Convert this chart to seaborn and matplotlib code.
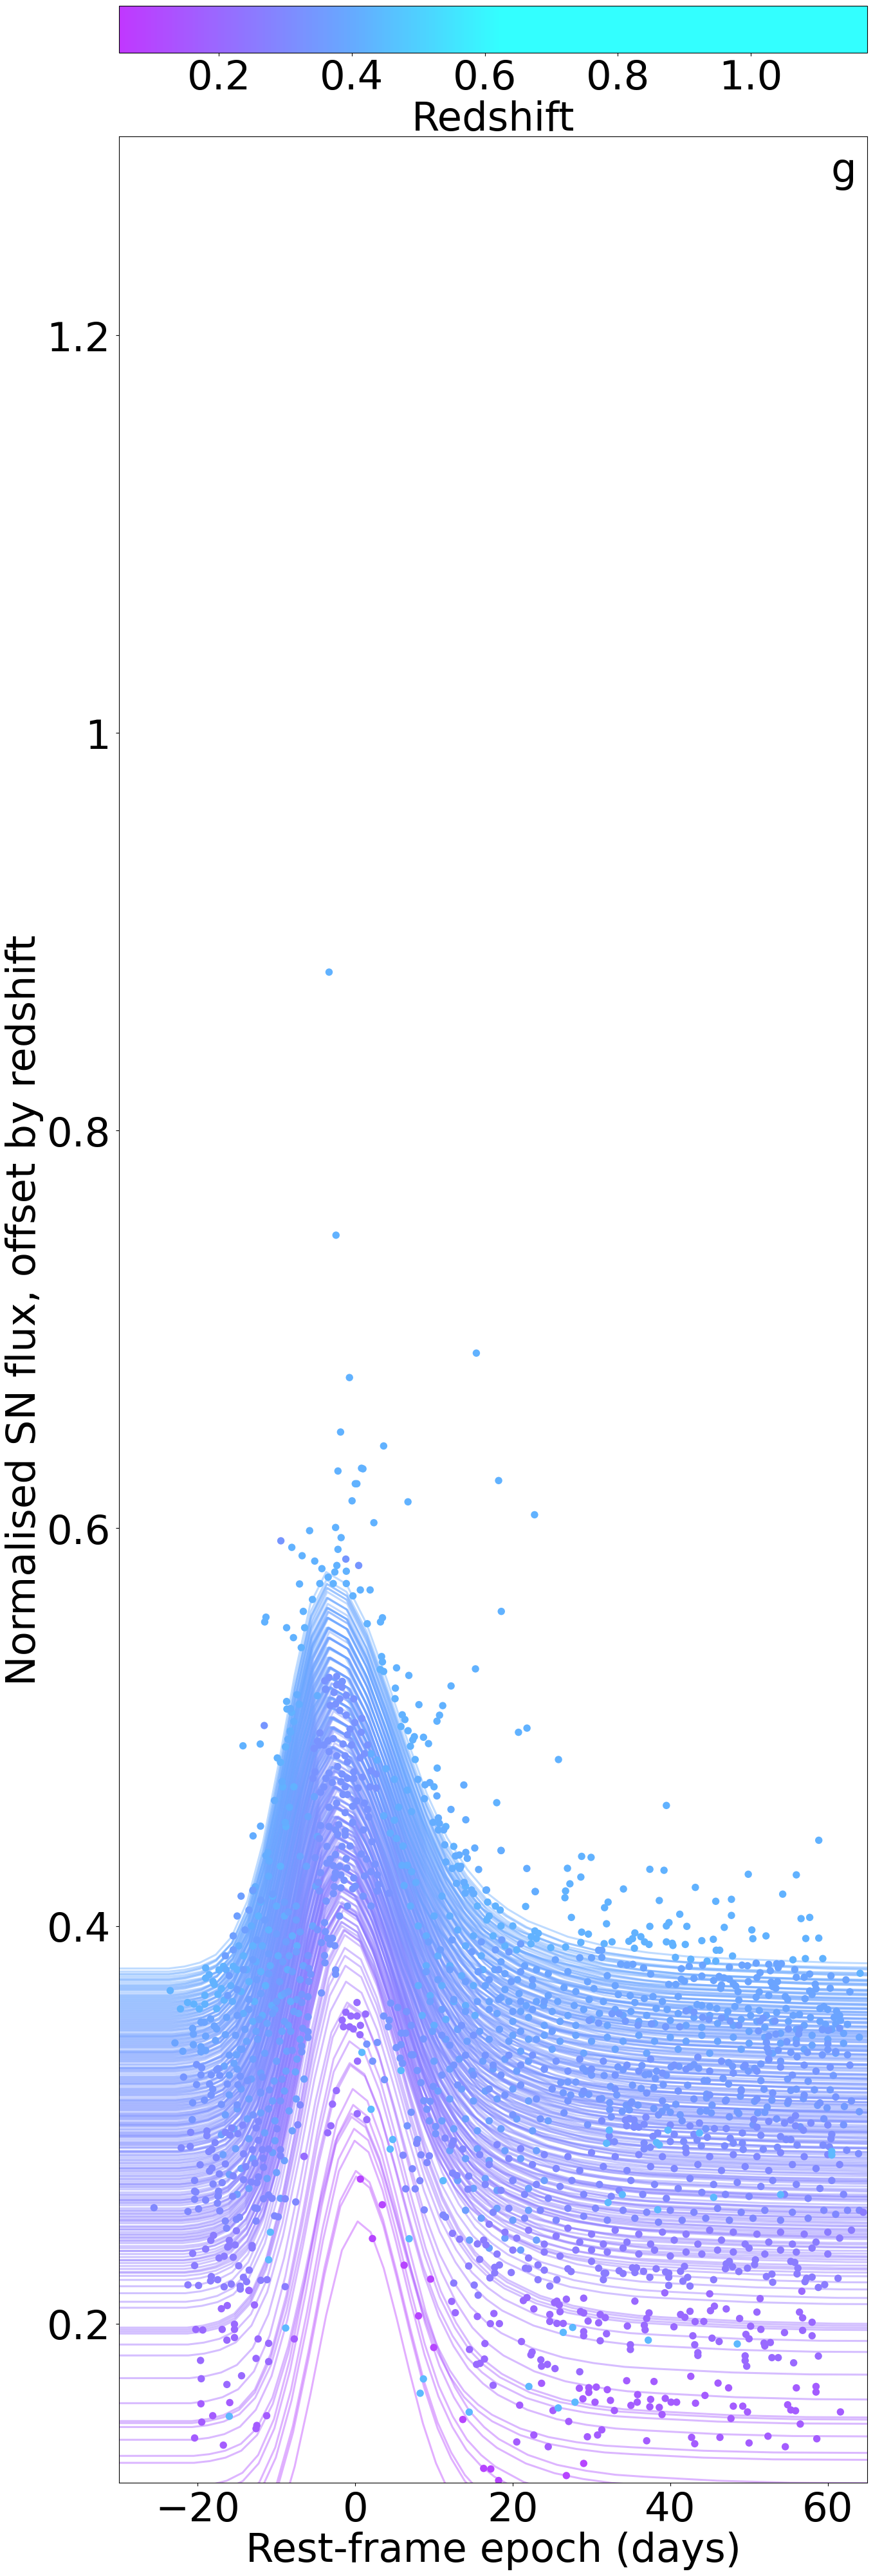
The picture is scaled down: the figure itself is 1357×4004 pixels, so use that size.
import numpy as np
import pandas as pd
import matplotlib
matplotlib.use('Agg')
import matplotlib.pyplot as plt
import seaborn as sns
from matplotlib.colors import LinearSegmentedColormap, Normalize
from matplotlib.cm import ScalarMappable

# Curve shape, as a fraction of the peak height above the baseline
template_phase = [-60, -20, -18, -16, -14, -12, -10, -8, -6, -4, -2, 0, 2, 4, 6, 8, 10, 12, 14, 16, 18, 20, 24, 28, 32, 36, 40, 50, 60, 80, 110]
template_shape = [0, 0, .005, .015, .035, .08, .17, .32, .52, .74, .92, 1, .97, .87, .73, .58, .44, .33, .25, .19, .15, .12, .08, .055, .04, .03, .025, .015, .01, .008, .005]

# (baseline, peak) of each SN curve
curves_low = [(.07, .2514), (.088, .2768), (.085, .274), (.10, .292), (.105, .298), (.114, .31), (.118, .318), (.13, .304), (.1335, .3057),
              (.1416, .33), (.148, .331), (.15, .342), (.151, .349), (.16, .36), (.1726, .3615), (.184, .372), (.1895, .38), (.195, .385),
              (.196, .389), (.197, .3955), (.198, .398), (.208, .398), (.211, .408), (.2153, .411), (.2188, .42)]
curves_mid = [(.222, .412), (.224, .402), (.226, .418), (.2275, .405), (.229, .425), (.2305, .41), (.232, .43), (.2335, .415), (.235, .405),
              (.2365, .432), (.238, .42), (.239, .41), (.2405, .438), (.242, .418), (.2435, .428), (.245, .44), (.246, .415), (.2475, .43),
              (.249, .445), (.2505, .425), (.252, .412), (.2525, .44), (.254, .432), (.2555, .45), (.257, .42), (.258, .438), (.2595, .455),
              (.261, .43), (.262, .445), (.2635, .42), (.265, .46), (.266, .44), (.2675, .43), (.269, .462), (.27, .45), (.2715, .425),
              (.273, .468), (.274, .44), (.2755, .455), (.277, .47), (.278, .43), (.2795, .46), (.281, .475), (.282, .445), (.2835, .47),
              (.285, .435), (.286, .48), (.287, .455), (.2885, .475), (.29, .445), (.291, .485), (.2925, .46), (.294, .49), (.295, .44), (.296, .475)]
curves_high = [(.2975, .46), (.299, .495), (.3, .45), (.301, .485), (.3025, .465), (.304, .5), (.305, .47), (.306, .445), (.3075, .49), (.309, .505),
               (.31, .46), (.311, .495), (.312, .475), (.3135, .51), (.315, .455), (.316, .5), (.317, .48), (.318, .515), (.3195, .465), (.321, .505),
               (.322, .485), (.323, .518), (.324, .46), (.3255, .51), (.327, .49), (.328, .522), (.329, .47), (.33, .515), (.3315, .495), (.333, .525),
               (.334, .475), (.335, .52), (.336, .5), (.337, .53), (.3385, .48), (.34, .525), (.341, .505), (.342, .535), (.343, .49), (.344, .53),
               (.3455, .51), (.347, .54), (.348, .485), (.349, .535), (.35, .515), (.351, .545), (.352, .5), (.3535, .54), (.355, .52), (.356, .55),
               (.357, .495), (.358, .545), (.359, .525), (.3605, .555), (.362, .505), (.363, .55), (.364, .53), (.365, .56), (.3665, .515), (.368, .555),
               (.369, .535), (.37, .565), (.3715, .52), (.373, .56), (.3745, .54), (.376, .57), (.3771, .55), (.3786, .578)]
curves_dense = [(.2415, .43), (.2445, .425), (.2485, .435), (.2515, .43), (.2535, .442), (.2565, .44), (.2605, .448), (.2625, .438), (.2645, .455), (.2685, .452),
                (.2705, .46), (.2725, .445), (.2745, .465), (.2765, .448), (.2785, .472), (.2805, .455), (.2825, .478), (.2845, .452), (.2865, .47), (.2885, .482),
                (.2895, .46), (.2915, .478), (.2935, .47), (.2945, .492), (.2955, .465), (.2965, .488), (.298, .478), (.2995, .5), (.3005, .47), (.3015, .498),
                (.303, .482), (.3035, .505), (.3045, .488), (.3055, .508), (.307, .478), (.308, .5), (.3095, .49), (.3105, .512), (.3115, .48), (.3125, .505),
                (.3145, .495), (.3155, .518), (.3165, .49), (.3175, .51), (.3185, .5), (.3205, .522), (.3215, .495), (.3225, .515), (.3235, .505), (.3245, .525),
                (.3265, .5), (.3275, .52), (.3285, .51), (.3305, .53), (.332, .505), (.3325, .525), (.3335, .515), (.3345, .535), (.3355, .51), (.3365, .53),
                (.3375, .52), (.339, .54), (.3395, .515), (.3405, .535), (.3415, .525), (.3425, .545), (.3435, .52), (.3445, .54), (.345, .53), (.346, .548),
                (.3475, .525), (.3485, .545), (.3495, .535), (.3505, .55), (.3515, .53), (.3525, .55), (.353, .54), (.354, .558), (.3545, .535), (.3555, .555),
                (.3565, .545), (.3575, .56), (.3585, .54), (.3595, .558), (.36, .55), (.361, .565), (.3615, .545), (.3625, .562), (.3635, .555), (.3645, .57),
                (.3655, .55), (.3675, .568), (.3685, .56), (.3695, .572), (.3705, .555), (.3725, .572), (.3735, .565), (.3755, .574), (.278, .462), (.27, .435),
                (.262, .43), (.255, .425), (.2472, .42), (.243, .41), (.2366, .41), (.2318, .402), (.2255, .4), (.2905, .452), (.3, .475), (.3085, .47), (.2865, .445),
                (.2945, .455), (.3045, .46), (.3125, .47), (.3205, .48), (.3285, .49), (.3365, .5), (.3445, .505)]

# (epoch, flux) of the points, grouped by the redshift their colour shows
pts_z42 = [(-3.33, .8797), (-2.45, .7474), (15.37, .6881), (-.74, .6758), (-1.87, .6484), (3.6, .6414), (18.2, .624), (-2.2, .6288), (.79, .6302), (.97, .6299),
           (0, .6224), (.2, .6224), (-.41, .6138), (6.69, .6133), (22.76, .6068), (2.36, .6028), (-5.8, .5988), (-2.5, .6004), (-1.8, .5953), (-8.06, .5904),
           (-2.2, .5894), (-6.75, .5862), (-5.15, .5835), (-4.24, .5797), (-2.34, .5813), (-2.6, .578), (-1.14, .5784), (-3.44, .5754), (-7.08, .572), (-4.5, .5722),
           (-2.8, .5722), (-1.14, .5722), (.64, .569), (1.88, .569), (-.3, .566), (-5.44, .5642), (-11.34, .5553), (-11.5, .5529), (-6.6, .5582), (3.45, .555),
           (3.2, .5529), (18.54, .5582), (-8.72, .55), (-6.43, .55), (1.52, .552), (-7.85, .545), (-6.86, .54), (3.34, .5355), (3.45, .5328), (5.24, .5298),
           (3.16, .529), (3.6, .528), (6.8, .526), (15.26, .5293), (12.16, .5207), (5.09, .5196), (5.05, .5143), (-8.72, .5129), (-8.68, .5091), (-8.1, .5075),
           (8.08, .5113), (11.1, .5108), (10.7, .506), (5.96, .5062), (6.3, .5038), (10.37, .503), (5.8, .5003), (6.7, .4982), (-8.28, .498), (20.72, .4974),
           (21.8, .4995), (7.5, .4952), (8.66, .4949), (7.3, .4936), (9.3, .4917), (-14.26, .4906), (-12.07, .4915), (-8.87, .4901), (7.0, .4904), (25.8, .4837),
           (-9.9, .4845), (-9.5, .4823), (7.6, .4837), (10.4, .4794), (17.96, .462), (39.5, .4606), (58.85, .4431), (18.5, .438), (28.74, .435), (29.94, .4345),
           (26.94, .429), (28.64, .4246), (27.25, .4212), (22.86, .4173), (26.7, .4176), (26.62, .4142), (21.63, .4098), (16.6, .418), (37.4, .4285), (39.2, .428),
           (34.05, .4186), (43.18, .4194), (49.9, .426), (56, .4257), (54.27, .416), (38.6, .4128), (32.1, .412), (31.65, .4092), (45.77, .4124), (47.76, .4134),
           (41.2, .4059), (47.76, .4053), (39.83, .4017), (39.5, .4), (37.4, .3998), (42.1, .3998), (46.85, .3993), (57.7, .4043), (56.6, .4037), (27.44, .4043),
           (31.9, .4011), (50.35, .398), (52.15, .395), (50.48, .3936), (57.2, .3937), (58.85, .3939), (28.74, .3969), (29.6, .3959), (35.5, .3965), (36.26, .3946),
           (35.2, .3936), (34.74, .3923), (31.6, .3911), (32.6, .392), (36.73, .392), (37.3, .3907), (39.5, .392), (40.24, .3913), (40.33, .3902), (41.9, .3907),
           (44, .3926), (45.46, .3933), (28.64, .3917), (26.7, .3894), (24.82, .3891), (22.8, .3975), (23.24, .3963), (22.35, .3946), (23, .3937), (22.3, .391),
           (35.44, .3888), (45.83, .3878), (46.27, .3878), (47.9, .3849), (40.65, .3842), (42.6, .3833), (44.67, .3823), (45.77, .3823), (55.57, .383), (57.15, .3836),
           (59.36, .3836), (64.1, .3762), (-19, .3789), (-18.56, .3755), (-19, .3738), (-18.06, .372), (-17.3, .3779), (-16.75, .3797), (-15.5, .3797), (-17.9, .3706),
           (-17, .3685), (-17.44, .3656), (-23.5, .3675), (-21.3, .3615), (-22.2, .3583), (-20.5, .3607), (-19.8, .3583), (-19.1, .3607), (-19.1, .3651), (-16.65, .3627),
           (-17.6, .3584), (-12.3, .405), (-11, .398), (-13, .39), (-14.2, .385), (-15, .378), (-10.5, .415), (-9.5, .43), (-8.8, .45), (-9.2, .47), (-7.8, .47),
           (-12, .377), (-13.5, .372), (-14.5, .367), (-12.8, .362), (-11.4, .37), (10, .47), (11.5, .45), (12.5, .44), (13, .43), (14, .42), (15.5, .41), (17, .405),
           (18.5, .4), (20, .4), (19, .39), (17.5, .395), (20.5, .388), (16.7, .403), (16.8, .412), (17.8, .41), (18.4, .408)]
pts_flank = [(-8.22, .5093), (-7.81, .5028), (-8.22, .4974), (-8.55, .4939), (-4.82, .5158), (-7.4, .5163), (-7.13, .5115), (-9.3, .4726), (-10.26, .4631), (-11.08, .437),
             (-11.35, .4354), (-10.94, .4327), (-12.7, .4197), (-12.98, .4176), (-8.9, .4521), (-8.36, .4597), (-12.03, .4502), (-12.98, .4453), (2.79, .4834), (3.88, .4791),
             (1.98, .4866), (3.61, .4554), (4.97, .4532), (5.51, .4597), (4.43, .4467), (5.24, .444), (6.06, .4402), (5.92, .4305), (6.6, .4305), (7.15, .4273), (7.69, .4219),
             (6.19, .4203), (9.87, .4521), (8.78, .464), (7.96, .4737), (7.15, .4575), (6.6, .4683), (4.97, .4737), (10.55, .4543), (10.68, .4516), (10.55, .4483), (11.23, .4483),
             (11.36, .4408), (11.5, .4322), (12.31, .4289), (12.72, .4352), (13.21, .4357), (14.03, .437), (14.22, .434), (13.4, .43), (13.27, .4289), (12.86, .4214), (13.81, .4219),
             (13.95, .4165), (14.76, .4181), (15.03, .4163), (16.67, .4181), (9.46, .4721), (8.86, .471), (10.36, .4654), (13.78, .4709), (12.15, .4586), (14.03, .4534), (15.17, .4392),
             (18.52, .4379), (15.66, .4284), (21.78, .4289), (22.84, .4173), (-10, .41), (-9, .405), (-8, .395), (-9.8, .385), (-8.6, .378), (-7.4, .39), (-10.8, .38), (-11.8, .39),
             (-12.6, .382), (-13.8, .378), (-15.6, .362), (-14.2, .356), (-13, .352), (-11.8, .355), (-10.6, .36), (-9.4, .365), (-8.2, .362), (-15.8, .37), (-16.4, .378), (-14.8, .39),
             (-13.2, .4), (-12, .412), (-11, .425), (7, .41), (8, .4), (9, .395), (10, .405), (11, .415), (12, .405), (13, .398), (14, .39), (15, .395), (16, .385), (9, .38), (10.5, .385),
             (12, .38), (13.5, .375), (15, .37), (16.2, .378), (8, .37), (9.5, .365), (11, .37), (12.5, .362), (14, .36), (15.2, .355), (8.5, .355), (10, .35), (11.5, .353), (13, .348)]
pts_z38 = [(17.7, .378), (18.5, .382), (19, .376), (20.6, .373), (21.5, .38), (23, .378), (24.5, .376), (25.4, .383), (27, .377), (28.5, .384), (30, .384), (30.9, .3878),
           (31.3, .3878), (31.3, .3842), (33.7, .3808), (34.5, .3804), (35.25, .3807), (36.6, .3789), (37.5, .3758), (41.4, .3785), (42.4, .3797), (44.1, .3803), (47.5, .3793),
           (49.1, .3803), (49.8, .38), (50.9, .3813), (52.5, .3807), (53.5, .381), (54.1, .381), (53.7, .379), (55.8, .3781), (52.7, .3775), (51.4, .3765), (51, .374),
           (49.9, .372), (43, .3736), (44, .3748), (41.4, .3732), (41.8, .3722), (40.7, .3706), (39.8, .3706), (45.5, .3726), (46.2, .3746), (46.8, .3739), (47.5, .3732),
           (48, .371), (48.3, .3698), (46.5, .3703), (46.4, .3686), (48.6, .367), (51.3, .3668), (52.5, .3651), (50.9, .3642), (52.8, .3717), (53.6, .372), (53, .3695),
           (53.4, .3687), (56, .3742), (57, .3742), (57.7, .3758), (58.4, .3707), (58.5, .3684), (57.7, .3673), (58, .3656), (57.1, .3634), (60.3, .3687), (60.4, .3749),
           (62.3, .3729), (62.8, .3669), (54.6, .3645), (54.9, .363), (48.7, .3627), (32, .375), (33, .37), (29.5, .372), (30.3, .3685), (28, .367), (26.5, .369),
           (24.5, .365), (22.5, .37), (20.8, .366), (19.5, .362), (18.5, .364), (21.7, .36), (23.9, .36), (25.7, .362), (27.8, .36), (29.7, .363), (31.5, .362), (33.4, .3655),
           (34.9, .365), (35.5, .3615), (36.7, .3635), (37.8, .3645), (38.2, .3585), (39.6, .358), (41, .3645), (42.5, .358), (43.4, .3605), (44, .36), (45, .3595), (45.9, .3585),
           (47.3, .357), (48.2, .3595), (49.9, .3585), (50.2, .355), (51.3, .3575), (52.2, .355), (53.5, .3565), (54.7, .3585), (55.6, .355), (56.4, .3555), (57.8, .354),
           (59, .3585), (60, .358), (61.1, .3572), (61.5, .355), (61.6, .3525), (59.5, .3595), (60.8, .354), (16.5, .37), (17, .362), (18, .356), (20, .352), (22, .354),
           (24, .35), (26, .352), (28, .35), (30, .353), (32, .35), (34, .355), (36, .352), (38, .351), (40, .3525), (42, .35), (44, .349), (46, .351), (48, .35), (50, .347),
           (52, .349), (54, .346), (56, .348), (58, .345), (60.5, .348), (62, .346), (60, .3475), (59.7, .3505), (61, .3508), (62.5, .3505), (-18.37, .3533), (-19.6, .3516),
           (-19.15, .3516), (-20.65, .3485), (-20.56, .3456), (-22.9, .3412), (-20.56, .3403), (-21.9, .337), (-19.6, .3393), (-19.6, .3367), (-19, .3374), (-17.9, .3497),
           (-17.6, .3482), (-19, .3446), (-17.75, .3424), (-16.34, .354), (-16.5, .3453), (-15.4, .3309), (-15.1, .3352), (-16.65, .3295), (-14.6, .338), (-13.8, .342), (-12.6, .347),
           (-11.2, .351), (-10.2, .358), (-9, .366), (-8.4, .385), (-7.5, .41), (-7, .435), (-6, .455), (-6.2, .43), (-5.2, .465), (-4.8, .445), (-5, .42), (-5.4, .4), (-6.6, .38),
           (-9.3, .347), (-7.6, .3266), (-8.5, .35), (-7.2, .356), (19, .368), (21, .357), (23, .362), (25, .357), (27, .355), (29, .358), (31, .356), (33, .358), (35, .357), (37, .355),
           (39, .362), (41, .356), (43, .354), (45, .355), (47, .354), (49, .353), (51, .352), (53, .352), (55, .352), (57, .35), (59, .352), (20, .345), (22, .343), (24, .345),
           (26, .342), (28, .345), (30, .342), (32, .344), (34, .342), (36, .345), (38, .342), (40, .344), (42, .342), (44, .345), (46, .342), (48, .344), (50, .341), (52, .344),
           (54, .341), (56, .343), (58, .34), (60, .343), (62, .341), (64, .344), (21, .337), (25, .338), (29, .336), (33, .338), (37, .336), (41, .338), (45, .336), (49, .338),
           (53, .336), (57, .338), (61, .336)]
pts_core = [(-3.87, .5233), (-3.73, .519), (-2.37, .5255), (-2.37, .5212), (-1.69, .5228), (-1.69, .5201), (-3.33, .525), (-2.7, .5174), (-1.97, .5142), (-1.15, .516), (-.2, .5142),
            (-3.19, .5109), (-2.51, .5115), (-1.97, .5084), (-1.15, .506), (-.06, .5023), (.84, .5044), (-.66, .499), (-1, .4961), (-4.5, .4971), (-4.8, .4929), (-4.55, .491), (-4, .491),
            (-3.46, .4931), (-2.78, .4942), (-1.56, .4915), (-.47, .491), (.75, .4974), (1.57, .491), (-5.23, .4893), (-3.33, .4877), (-2.37, .4856), (-1.29, .4856), (-1, .4825), (.62, .4845),
            (1.16, .4866), (-2.24, .4802), (-1.69, .4764), (-3.33, .4769), (-.2, .4775), (-.2, .4742), (-3.73, .4742), (-5.37, .4742), (-2.92, .4721), (-1.83, .4726), (-1, .4742), (.89, .4748),
            (1.98, .478), (2.66, .4764), (-5.1, .4775), (-4, .4699), (-1.29, .4699), (.35, .4694), (1.84, .4699), (2.66, .4694), (-1.56, .4661), (-1, .4661), (-4.41, .4672), (.21, .4629),
            (1.16, .4618), (-2.37, .4618), (-3.33, .4597), (-.33, .4602), (1.57, .4586), (-1.29, .457), (1.71, .4548), (-.33, .4521), (-2.1, .451), (-3.33, .45), (-4.41, .4505), (-2.51, .4483),
            (-1.29, .4478), (-1.29, .4456), (1.03, .4483), (-4.55, .444), (-2.24, .446), (2.11, .4424), (-3.6, .44), (-1.69, .44), (-.66, .4402), (.75, .4362), (-2.51, .4359), (-5.1, .4343),
            (-3.19, .4336), (-1.15, .4338), (1.43, .4336), (2.52, .4311), (-3.6, .4316), (-2.78, .4303), (-1.97, .43), (-1.07, .4292), (1.98, .4273), (-4.41, .4268), (-2.51, .4268), (-1.83, .4257),
            (1.16, .4251), (2.79, .4257), (-2.65, .4241), (-1.42, .423), (-.2, .4241), (-4.69, .4219), (-2.65, .4197), (-1.83, .4192), (-.33, .4187), (2.93, .4208), (2.79, .4176), (4.29, .4165),
            (-4.55, .4176), (-2.78, .4163)]
pts_z34 = [(-6.8, .3367), (-6.66, .3485), (-6, .3468), (-6, .3439), (-6.8, .3396), (-8, .3374), (-6, .3543), (-6.8, .3615), (-6, .3644), (-6.8, .3656), (-4.3, .3663),
           (-5.9, .3721), (-5.66, .3757), (-5.9, .3786), (-6, .3851), (-3.85, .3815), (-3.9, .3851), (-3.7, .4125), (-3.9, .4017), (-4.8, .3981), (-3.8, .3971), (-4.3, .3916),
           (-3.5, .3938), (-2.9, .3938), (-3.2, .3909), (-2.6, .3901), (-2.5, .3779), (-2.5, .3757), (-1, .41), (0, .42), (1, .415), (-2, .405), (2, .41), (-3.8, .519), (-1.65, .523),
           (-9.45, .5937), (-1.2, .5845), (.43, .5813), (-11.56, .5008), (-20.15, .3303), (-19.5, .3287), (-21.8, .324),
           (-19.6, .3251), (-18.3, .3251), (-17.2, .3248), (-17.4, .3283), (-17.6, .3277), (-20.15, .3202), (-18.5, .3205), (-18.1, .3179), (-18.3, .315), (-19.15, .3124),
           (-20.65, .3111), (-17, .3102), (-14.9, .3201), (-16.25, .3205), (-14.6, .3244), (-13.7, .3222), (-11.8, .324), (-12, .3164), (-10.9, .3176), (-9.3, .3229), (-20.7, .3026),
           (-15, .31), (-13, .305), (-11, .308), (-9.5, .312), (1.46, .3406), (2.8, .3414), (2.2, .332), (3.7, .3227), (5.2, .3388), (5.8, .3403), (5.84, .3461), (6.4, .3461),
           (4.2, .3493), (4.3, .3526), (3.6, .3547), (4.5, .3612), (5.4, .359), (6.5, .3569), (7.1, .35), (8.65, .3432), (5.7, .3335), (6, .3309), (7.1, .3352), (7.35, .3352),
           (7.87, .3273), (8.34, .3212), (9.9, .3193), (8.7, .3121), (9.5, .3118), (9.1, .3078), (10.2, .2991), (9.4, .302), (10.2, .2955), (7.1, .3063), (6.6, .2995), (7.9, .2926),
           (11, .345), (12, .34), (13.5, .35), (15, .345), (14, .335), (12.5, .33), (11, .325), (13, .32), (15, .325), (16.5, .335), (17.5, .33), (18.5, .325), (19.5, .335), (21, .33),
           (22.5, .335), (24, .328), (25.5, .332), (27, .327), (28.5, .333), (30, .328), (31.5, .332), (33, .325), (34.5, .33), (36, .327), (37.5, .333), (39, .326), (40.5, .33),
           (42, .328), (43.5, .334), (45, .327), (46.5, .332), (48, .326), (49.5, .33), (51, .327), (52.5, .333), (54, .329), (55.5, .325), (57, .33), (58.5, .327), (60.3, .329),
           (62.8, .33), (17, .318), (19, .315), (21, .32), (23, .313), (25, .318), (27, .312), (29, .317), (31, .313), (33, .318), (35, .311), (37, .316), (39, .312), (41, .317),
           (43, .313), (45, .315), (47, .312), (49, .317), (51, .313), (53, .316), (55, .312), (57, .315), (59, .311), (61, .314), (63, .312), (20, .305), (23.5, .303),
           (26.5, .306), (29.5, .3), (32.5, .304), (35.5, .3), (38.5, .305), (41.5, .302), (44.5, .298), (47.5, .304), (50.5, .3), (53.5, .303), (56.5, .299), (59.5, .303), (62, .3)]
pts_right = [(29.7, .3525), (30.9, .3512), (35.9, .3501), (34.3, .3522), (33.5, .3559), (32.6, .3559), (37.6, .3508), (39.4, .3493), (41.2, .3493), (42, .3573), (43, .3566), (44.1, .354), (44.9, .353),
             (46.5, .3537), (47.6, .3522), (48.7, .3501), (51.4, .3522), (51.8, .3537), (53.3, .3522), (55, .3482), (56.4, .3482), (59.3, .3479), (60.1, .3476), (61.5, .3486), (51.2, .3472), (52.5, .3447),
             (53.4, .3456), (56.3, .3457), (54.8, .3418), (56, .3409), (60, .3407), (60, .3378), (52.2, .3414), (52.3, .3385), (52.5, .3364), (53.7, .3375), (55.3, .3364), (57.4, .3364), (59.3, .3352),
             (61, .3368), (62.5, .3352), (56.1, .3342), (52.5, .3327), (54, .332), (51.5, .3306), (50.7, .3284), (49.3, .3291), (49.9, .327), (47.4, .3313), (47.9, .3294), (43.6, .3284), (43, .3303),
             (42.5, .3291), (40.1, .3291), (41.1, .3294), (39.5, .325), (38.25, .327), (37.3, .3255), (36.8, .3252), (36.4, .3298), (38.1, .3233), (34, .3277), (33.35, .3291), (31.6, .3248), (30, .325),
             (28.9, .3284), (29.3, .327), (27, .3216), (28, .3215), (26.1, .3212), (26.4, .3161), (27.35, .315), (28.8, .3154), (29.65, .3153), (31.3, .3132), (32.4, .3193), (33.2, .315), (35.2, .3199),
             (36.3, .3183), (37.9, .3187), (39.1, .3202), (42.2, .3199), (44.3, .3222), (44.7, .3222), (46.7, .3233), (47.4, .3205), (49, .3176), (51.5, .3222), (51.9, .3179), (54.9, .323), (55.3, .3173),
             (56, .3179), (57.5, .3219), (58.3, .3176), (60.3, .3176), (60.7, .3248), (48.9, .3144), (47.1, .3125), (50.7, .3118), (52.9, .3124), (56.9, .3132), (58.7, .3098), (59.9, .3085), (62.1, .3092),
             (64, .3066), (54.9, .3108), (52.3, .3089), (52, .3063), (51.1, .306), (48.5, .3067), (48.7, .3056), (45.3, .3099), (44.6, .3154), (44.6, .3135), (43.8, .3067), (44.6, .307), (45.2, .306),
             (41.25, .305), (40.7, .3103), (39.5, .3089), (40, .3063), (38.95, .3067), (37.9, .3082), (35.9, .3099), (34.8, .3075), (33.9, .3067), (34.4, .3099), (35.1, .3115), (32.3, .3077), (32.3, .3111)]
pts_lower = [(31.3, .302), (32.25, .2944), (32.25, .2915), (32.9, .2915), (34.3, .3024), (34.8, .3031), (35.4, .3024), (34.46, .2995), (35.4, .2988), (36, .2988), (36.67, .3002), (36.9, .3038), (37.8, .2942),
             (38.4, .2959), (36.67, .2908), (36.67, .2879), (37.46, .2887), (40, .2999), (40.5, .2952), (40, .2916), (41.7, .2916), (41.95, .2884), (42.5, .2995), (43.7, .3009), (43, .2952), (44.7, .2937),
             (43.4, .2923), (43.94, .2894), (45.6, .2981), (47.1, .2981), (49.15, .2959), (47.6, .2933), (46.9, .2894), (48, .2908), (49.15, .2908), (49.25, .2876), (50.6, .3027), (51, .2988), (52.5, .3017),
             (51.5, .2947), (54, .2941), (54.5, .3009), (55.3, .3024), (55.9, .3046), (55.9, .2995), (56.9, .2973), (57.85, .3009), (54.7, .2926), (55.3, .2926), (56.1, .2898), (53.6, .2887), (51.8, .2877),
             (60, .2999), (60.5, .2952), (60.4, .293), (59.4, .2898), (60.2, .2889), (62.4, .2872), (63.9, .2855)]
pts_rise = [(-14.5, .415), (-13, .418), (-12, .413), (-10.5, .416), (-9, .412), (-15, .405), (-13.5, .408), (-11.5, .403), (-8.5, .407), (-7.5, .403), (-15.5, .395), (-14, .398), (-12.5, .393),
            (-10, .396), (-8.8, .392), (-7, .397), (-16.5, .385), (-15.5, .388), (-13, .383), (-11, .386), (-9.2, .382), (-7.5, .387), (-16, .375), (-14.2, .378), (-12.5, .373), (-11, .376), (-9.6, .372),
            (-8, .377), (-7, .373), (-16.2, .365), (-15, .368), (-13.5, .363), (-12, .366), (-10, .362), (-8.5, .367), (-7.4, .363), (-15, .355), (-13.5, .358), (-12.2, .353), (-10.5, .356), (-9, .352),
            (-7.8, .357), (-15.2, .345), (-14, .348), (-12.4, .343), (-11, .346), (-9.6, .342), (-8.2, .347), (-7, .343), (-16, .335), (-14.4, .338), (-13, .333), (-11.5, .336), (-10, .332), (-8.7, .337),
            (-7.4, .333), (-16, .325), (-15, .328), (-13.2, .323), (-12, .326), (-10.3, .322), (-8.8, .327), (-6.5, .323), (-16, .315), (-14.5, .318), (-13.5, .313), (-12, .316), (-10.5, .312), (-9, .317),
            (-7.5, .313), (-16.5, .305), (-15, .308), (-13.7, .303), (-12, .306), (-10.2, .302), (-8.4, .307), (-17, .295), (-15.4, .298), (-13.5, .293), (-11.5, .296), (-10.2, .292), (-8, .297), (-16.8, .285),
            (-15.2, .288), (-13, .283), (-10.5, .286), (-9, .282), (-16, .275), (-14.5, .278), (-11.2, .273), (-10, .276), (-15, .265), (-13.5, .268), (-9.5, .263)]
pts_fall = [(9.3, .392), (10.8, .388), (12.3, .393), (14.8, .387), (16, .392), (17.8, .388), (18.6, .393), (19.5, .387), (21, .391), (9, .377), (10.5, .373), (12, .378), (14, .372), (15.6, .377), (17, .373),
            (18.2, .378), (19.8, .372), (21, .377), (22.5, .373), (9.5, .362), (11, .358), (12.5, .363), (14, .357), (15.5, .362), (17, .358), (18.2, .363), (20, .357), (21, .362), (22.5, .358), (24, .362),
            (9.8, .347), (11.5, .343), (13, .348), (14.2, .342), (15.8, .347), (17, .343), (18.3, .348), (19.5, .342), (21, .347), (23, .343), (25, .347), (10, .332), (12, .328), (13.2, .333), (14.8, .327),
            (16.2, .332), (17.5, .328), (19, .333), (20.5, .327), (22, .332), (24, .328), (10.5, .317), (12, .313), (13.5, .318), (15, .312), (16.5, .317), (18, .313), (20, .318), (22, .312), (11, .302),
            (12.5, .298), (14, .303), (15.5, .297), (17, .302), (18.5, .298), (20.5, .303), (22.5, .297), (24.5, .302), (12, .287), (14, .283), (15.5, .288), (17, .282), (19, .287), (21, .283), (23, .287),
            (13, .272), (15, .268), (16.5, .273), (18, .267), (20, .272), (22, .268), (24, .272), (14, .257), (16, .253), (18, .258), (20, .252), (22, .257), (14.5, .242), (17, .238), (19, .243), (21, .237), (23, .242)]
pts_z30 = [(-12.3, .3017), (-9.94, .298), (-12.6, .2984), (-14.3, .2998), (-15.7, .2984), (-12.3, .2922), (-16.5, .2962), (-15.9, .2948), (-14.9, .2955), (-14.2, .2854),
           (-13.06, .2875), (-11.8, .2875), (-11, .2878), (-11.7, .2832), (-9.5, .2844), (-9.5, .2875), (-13.9, .2789), (-12.75, .2807), (-11.65, .2786), (-12.3, .2738),
           (-14.2, .2724), (-13.2, .2712), (-12.5, .2709), (-15.5, .2743), (-16.9, .2709), (-16.5, .2803), (-18.2, .2782), (-20.9, .2962), (-18.84, .2969), (-18.84, .2945),
           (-22.1, .2884), (-20.96, .2891), (-18.6, .2865), (-18.2, .2876), (-17.8, .291), (-17.65, .2835), (-19.7, .2799), (-18.5, .2767), (-20.4, .272), (-18.06, .2702),
           (-17.26, .2753), (-20.4, .2666), (-20.25, .2662), (-17.36, .2666), (-17.43, .2641), (-6.5, .2841), (-8.9, .2628), (-7.56, .2612), (-11, .2647), (-11.66, .2628),
           (-10.56, .263), (-9.78, .2537), (-10.25, .2542), (-12.75, .2582), (-12.44, .2579), (-12.6, .2516), (-25.56, .2583), (-21.25, .2564), (-19.9, .2577), (-19, .2621),
           (-20.4, .2625), (-17.5, .2606), (-17.2, .2567), (-15.56, .264), (-17.4, .2643), (-15.1, .2524), (-14.7, .2535), (-16.5, .2516), (-16.34, .248), (-7, .31), (-7.3, .3),
           (6.06, .2847), (7.25, .2779), (8.2, .2719), (6.4, .2678), (7.6, .2678), (8.75, .2572), (7.8, .2907), (8.34, .2849), (9.4, .2844), (9.1, .281), (11.4, .2933), (12.46, .2919),
           (12.24, .2897), (13.65, .2878), (12.34, .2757), (14.4, .2742), (12.9, .2745), (14.3, .2676), (11.15, .2546), (11.46, .2536), (15.8, .285), (17, .28), (18, .29), (19.5, .283),
           (21, .288), (22.5, .28), (24, .285), (25.5, .278), (27, .284), (28.5, .277), (30, .286), (31.5, .279), (33, .284), (34.5, .277), (36, .285), (37.5, .279), (39, .284),
           (40.5, .278), (42, .286), (43.5, .28), (45, .284), (46.5, .277), (48, .285), (49.5, .279), (51, .284), (52.5, .277), (54, .286), (55.5, .28), (57, .284), (58.5, .278),
           (60, .285), (61.5, .28), (16.5, .27), (18.5, .267), (20, .272), (21.5, .265), (23, .27), (24.5, .263), (26, .269), (27.5, .272), (29, .265), (31, .27), (32.5, .264),
           (33.5, .267), (35, .272), (36.5, .265), (38, .27), (39.5, .263), (41, .268), (42.5, .273), (44, .266), (45.5, .27), (47, .265), (48.5, .271), (50, .264), (51.5, .269),
           (53, .272), (54.5, .265), (56, .27), (57.5, .263), (59, .268), (60.5, .272), (62, .265), (64, .257), (17.5, .256), (19.5, .258), (21.5, .253), (23.5, .257), (25.5, .252),
           (27, .258), (29, .254), (30.5, .258), (32, .252), (34, .257), (35.5, .253), (37, .256), (38.5, .251), (40, .257), (41.5, .252), (43, .256), (44.5, .253), (46, .258),
           (47.5, .252), (49, .256), (50.5, .253), (52, .257), (54, .252), (55.5, .256), (57.5, .253), (59.5, .257), (61, .255), (62.5, .257)]
pts_z26 = [(-20.65, .2353), (-19, .2375), (-15.5, .2334), (-16.65, .2339), (-17.3, .233), (-13.1, .2393), (-13.1, .2381), (-15.25, .2396), (-16, .2393), (-16.2, .2385), (-18.34, .2419),
           (-18, .2444), (-16, .2419), (-15.1, .2467), (-12, .2218), (-11.2, .2221), (-8.9, .2186), (-13.5, .2167), (-14.6, .2174), (-14.62, .2189), (-13.8, .2211), (-14.2, .2233),
           (-13.47, .2269), (-14.8, .2291), (-16.65, .2185), (-15.75, .2199), (-17.47, .2221), (-18.37, .2215), (-18.28, .2237), (-21.25, .2195), (-19.9, .2192), (-20.4, .2292),
           (12.34, .2454), (13.25, .2425), (15.5, .2401), (16.3, .242), (16.6, .2396), (15.8, .2323), (14.4, .229), (17.7, .2283), (17.1, .223), (12.5, .2204), (15.1, .2194),
           (15.6, .2143), (17.7, .2255), (18.3, .2295), (19.8, .2257), (21.6, .2279), (22, .2276), (23.2, .2295), (24, .2269), (23.2, .2221), (24.7, .2189), (25.6, .2221), (27, .2276),
           (27.4, .2262), (30, .2313), (30.9, .2279), (31.6, .2254), (31.8, .2254), (31.5, .2221), (33.5, .2266), (34, .2252), (35.2, .2281), (35.7, .2281), (35.5, .2257), (36.6, .2263),
           (37.4, .2233), (38.2, .2276), (39.4, .226), (39.8, .2254), (39.8, .2233), (39.8, .2192), (41.3, .2263), (41.6, .2214), (42.2, .2233), (42.5, .2189), (41.8, .2288), (45.5, .2221),
           (47.1, .2301), (47.5, .2313), (47, .2276), (47.9, .2286), (48.7, .2262), (49.8, .2279), (50.7, .2297), (50.8, .2321), (52.2, .2237), (52.9, .2249), (53, .2208), (55.3, .2313),
           (55.8, .2308), (56.2, .2279), (56.1, .225), (57.1, .2211), (57.3, .2228), (58, .2234), (58.8, .2182), (59.6, .2196), (61.3, .2228), (17, .25), (19, .246), (20.5, .243),
           (22, .247), (24, .24), (25.5, .244), (27, .248), (28.5, .241), (30, .245), (31.5, .24), (33, .247), (34.5, .241), (36, .245), (37.5, .24), (39, .246), (40.5, .242), (42, .245),
           (43.5, .24), (45, .247), (46.5, .242), (48, .246), (49.5, .24), (51, .245), (52.5, .241), (54, .246), (55.5, .24), (57, .245), (58.5, .241), (60, .246), (61.5, .243),
           (63, .247), (64.5, .256), (18, .235), (20, .237), (22, .233), (24, .236), (26, .234), (28, .237), (30, .237), (32, .236), (34, .238), (36, .235), (38, .237), (40, .234),
           (42, .236), (44, .235), (46, .237), (48, .236), (50, .238), (52, .235), (54, .237), (56, .236), (58, .238), (60, .235)]
pts_z20 = [(-12.34, .1923), (-11, .1901), (-11, .1809), (-12.6, .1825), (-12.8, .2094), (-14.44, .1738), (-16.3, .1694), (-19.56, .1723), (-19.65, .1815), (-15.34, .1997), (-15.34, .1971),
           (-16.9, .1971), (-20.25, .1971), (-19.37, .1968), (-15.34, .193), (-16.3, .1917), (-17, .2075), (-16.25, .2091), (-13.5, .2167), (12.24, .2112), (12.7, .2055), (17.15, .2),
           (15.5, .2036), (17.6, .2051), (18.3, .2), (16.46, .19), (16.4, .1822), (15.4, .1795), (15.84, .18), (17.5, .169), (21.1, .191), (22.3, .1843), (22.45, .1857), (23.56, .1818),
           (23.65, .1786), (24.4, .1795), (25.36, .1774), (28.5, .1758), (21.34, .2116), (21.8, .2131), (22.67, .2074), (25.3, .2106), (25.6, .2113), (25.9, .2094), (26.8, .2123), (26, .206),
           (29, .2128), (28.6, .2061), (29, .2054), (24.7, .2046), (24.7, .2011), (25.6, .2001), (26.4, .2001), (29, .196), (29, .1939), (29.56, .2013), (30.9, .2004), (31.1, .2046),
           (31.74, .203), (31.9, .1949), (31.1, .1914), (34.55, .1988), (36.7, .1992), (36.8, .1969), (37.3, .2054), (37, .2026), (35.5, .2113), (34.93, .1894), (34.93, .187), (40.46, .1984),
           (41.3, .2046), (41.85, .2032), (42.5, .2062), (43.15, .201), (44.25, .2011), (42.86, .1939), (43.1, .1894), (43.5, .1854), (43.5, .184), (45.3, .1927), (46.2, .191), (45.1, .2065),
           (45.6, .2088), (47.1, .2074), (48.8, .2026), (51, .2058), (50.2, .1987), (51.5, .1971), (49.6, .1946), (50, .1924), (51.9, .1902), (52.7, .1905), (52, .1888), (49.5, .1838),
           (49.5, .1814), (49.7, .1786), (52.9, .1829), (53.7, .1829), (55.66, .1803), (58.8, .1837), (54.5, .1955), (56.8, .1966), (58, .1939), (56.4, .2058), (56.8, .2029), (58, .2007),
           (51.4, .2126), (45, .215), (39.3, .2155), (56.7, .2163), (14.5, .187)]
pts_tips = [(-1.2, .3566), (-.56, .3547), (.22, .3547), (-1.66, .3526), (-1.5, .3493), (-.72, .3493), (-.25, .3482), (.65, .35), (.6, .3453), (1.3, .3557), (.22, .3615), (.28, .332), (-2.4, .3172),
            (-2.9, .3104), (.25, .3056), (1.46, .3026), (-3.1, .2995), (-3.5, .296), (-6.5, .2841)]
pts_z16 = [(-11.25, .1537), (-12.5, .1488), (-12.6, .1472), (-19.6, .1597), (-19.5, .1505), (-20.4, .1425), (-16.75, .1389), (-15.94, .1603), (-18.1, .1537), (-7.75, .1923),
           (34.46, .1713), (37.93, .1709), (42.6, .1735), (46.06, .1701), (47.4, .1677), (56, .1677), (58.5, .1684), (58.5, .1656),
           (23.65, .17), (28.45, .1675), (29.65, .1678), (29.65, .1654), (30.6, .1681), (32, .1668), (28.9, .1622), (30.44, .1605), (32.4, .1614), (35.85, .1643), (35.8, .1605), (35, .1589),
           (37.5, .1619), (37.4, .1582), (38.6, .1579), (39.36, .1624), (40.1, .1605), (40.8, .1605), (38.95, .1543), (43.2, .16), (44.4, .1639), (48, .1585), (49.2, .1585), (49.8, .1556),
           (54.9, .1592), (55.3, .1566), (55.9, .1562), (61.6, .1556), (47.7, .1523), (56.5, .1495), (20.87, .159), (25.1, .1563), (32.9, .1563), (27.1, .1508), (31.3, .1466), (30.76, .144),
           (29.47, .1431), (22.67, .144), (20.5, .1405), (24.5, .1381), (37, .1411), (42.7, .1428), (43.1, .1396), (46.3, .1428), (50, .14), (52.4, .1434), (54.6, .1381), (58.6, .1421)]
pts_z09 = [(.65, .2727), (3.43, .2598), (2.18, .2428), (6.2, .2294), (9.56, .2224), (8.03, .2039), (9.96, .188), (13.65, .1518), (16.3, .1272), (17.2, .1269), (18.2, .1211), (29, .1297), (26.8, .1236)]
# odd ones whose colour does not match their neighbours
pts_blue = [(-10.78, .246), (-11, .2321), (-8.84, .1978), (-16, .1534), (.84, .3364), (4.75, .2926), (4.43, .2878), (5.8, .3273), (11.15, .2719), (6.84, .2427), (8.65, .1722), (8.24, .165),
            (14.46, .1555), (26.4, .1956), (27.6, .1981), (37.2, .1917), (48.5, .1898), (22.04, .1684), (27.9, .1605), (25.77, .1576), (2, .3078), (32.1, .2609), (33.9, .2649),
            (31.9, .2907), (38.6, .2899), (45.5, .2635), (38.4, .2573), (54, .2649), (60.5, .2866), (32.25, .2973), (38.25, .2911), (39.7, .2973), (43.7, .2959), (60.5, .2848)]

z_groups = [(.42, pts_z42), (.41, pts_flank), (.38, pts_z38), (.37, pts_rise), (.37, pts_fall), (.33, pts_core), (.35, pts_right), (.34, pts_z34), (.31, pts_lower),
            (.30, pts_z30), (.26, pts_z26), (.21, pts_tips), (.20, pts_z20), (.16, pts_z16), (.09, pts_z09), (.44, pts_blue)]

cmap_nodes = [(0, '#c038ff'), (.311, '#66aaff'), (.51, '#33ffff'), (1, '#33ffff')]
z_range = (.05, 1.175)

cmap = LinearSegmentedColormap.from_list('redshift', cmap_nodes)
norm = Normalize(*z_range)

# long table for the curves
rows = []
all_curves = curves_low + curves_mid + curves_high + curves_dense
for i, (base, peak) in enumerate(all_curves):
    shift = np.interp(base, [.07, .378], [.3, -3.7])
    fall = np.interp(base, [.07, .378], [.82, 1.22]) * np.interp(peak - base, [.12, .2], [.88, 1.05])
    for ph, sh in zip(template_phase, template_shape):
        rows.append((i, shift + ph * (fall if ph > 0 else 1), base + (peak - base) * sh, base * 1.05))
lines = pd.DataFrame(rows, columns=['sn', 'epoch', 'flux', 'z'])

rows = []
for z, pts in z_groups:
    rows += [(e, f, z) for e, f in pts]
points = pd.DataFrame(rows, columns=['epoch', 'flux', 'z'])

sns.set_style('ticks', {'axes.edgecolor': 'black', 'text.color': 'black', 'axes.labelcolor': 'black',
                        'xtick.color': 'black', 'ytick.color': 'black'})
W, H = 1357, 4005
fig = plt.figure(figsize=(W / 100, H / 100), dpi=100)
ax = fig.add_axes([185 / W, 1 - 3860 / H, (1348 - 185) / W, (3860 - 213) / H])
cax = fig.add_axes([185 / W, 1 - 83 / H, (1348 - 185) / W, 73 / H])

sns.lineplot(data=lines, x='epoch', y='flux', units='sn', estimator=None, hue='z', palette=cmap, hue_norm=norm,
             sort=False, lw=2.2, alpha=.42, legend=False, ax=ax)
sns.scatterplot(data=points, x='epoch', y='flux', hue='z', palette=cmap, hue_norm=norm, s=68, linewidth=0, legend=False, ax=ax, zorder=5)

ax.set_xlim(-30, 65)
ax.set_ylim(.12, 1.3)
ax.set_xticks([-20, 0, 20, 40, 60])
ax.set_yticks([.2, .4, .6, .8, 1, 1.2])
ax.set_yticklabels(['0.2', '0.4', '0.6', '0.8', '1', '1.2'])
ax.tick_params(axis='x', labelsize=45, length=3.5, width=.8, pad=5)
ax.tick_params(axis='y', labelsize=45, length=3.5, width=.8, pad=6)
ax.set_xlabel('Rest-frame epoch (days)', fontsize=45, labelpad=2)
ax.set_ylabel('Normalised SN flux, offset by redshift', fontsize=45)
ax.yaxis.set_label_coords(-.1006, .5)
ax.text(.9854, .9808, 'g', transform=ax.transAxes, ha='right', va='baseline', fontsize=45)

cb = fig.colorbar(ScalarMappable(norm=norm, cmap=cmap), cax=cax, orientation='horizontal')
cb.set_ticks([.2, .4, .6, .8, 1])
cb.ax.tick_params(labelsize=45, length=3.5, width=.8, pad=3)
cb.set_label('Redshift', fontsize=45, labelpad=3)

fig.savefig('out.png', dpi=100)
